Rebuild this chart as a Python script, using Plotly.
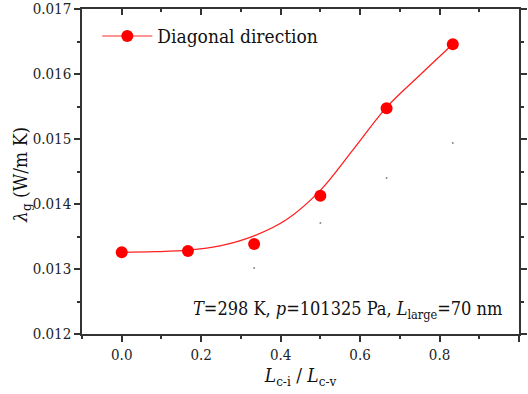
import plotly.graph_objects as go

# Data points (Diagonal direction)
ratio = [0.0, 1/6, 1/3, 0.5, 2/3, 5/6]
lam_g = [0.013257, 0.013277, 0.013385, 0.014128, 0.015472, 0.016457]

# Smooth fitted curve (at evenly spaced x)
curve_x = [0.0, 0.083, 0.167, 0.25, 0.333, 0.417, 0.5, 0.583, 0.667, 0.75, 0.833]
curve_y = [0.013257, 0.013266, 0.01329, 0.01336, 0.01351, 0.01377, 0.01421, 0.01484, 0.01549, 0.01598, 0.016457]

# small gray dots seen under the points
dot_x = [1/3, 0.5, 2/3, 5/6]
dot_y = [0.013015, 0.013708, 0.0144, 0.014938]

FONT = "DejaVu Serif Condensed"
AX = "#333333"

fig = go.Figure()
fig.add_trace(go.Scatter(x=curve_x, y=curve_y, mode="lines", line=dict(color="#ff2020", width=1.3, shape="spline", smoothing=1.0),
                         showlegend=False, hoverinfo="skip"))
fig.add_trace(go.Scatter(x=dot_x, y=dot_y, mode="markers", marker=dict(color="#888888", size=2), showlegend=False))
fig.add_trace(go.Scatter(x=ratio, y=lam_g, mode="markers", showlegend=False,
                         marker=dict(color="#ff0000", size=12)))
# legend entry showing line+marker
fig.add_trace(go.Scatter(x=[None], y=[None], mode="lines+markers", name="Diagonal direction",
                         line=dict(color="#ff7070", width=1.5), marker=dict(color="#ff0000", size=12)))
# invisible trace for mirror axes
fig.add_trace(go.Scatter(x=[None], y=[None], xaxis="x2", yaxis="y2", showlegend=False))

common = dict(showline=True, linecolor=AX, linewidth=1.5, ticks="outside", tickcolor=AX, tickwidth=1.5,
              ticklen=6, showgrid=False, zeroline=False, automargin=False,
              tickfont=dict(family=FONT, size=15, color="#222"))

fig.update_layout(
    width=528, height=394,
    margin=dict(l=82, r=9, t=9, b=60),
    paper_bgcolor="white", plot_bgcolor="white",
    font=dict(family=FONT, color="#111"),
    xaxis=dict(range=[-0.1, 1.0], tickvals=[0.0, 0.2, 0.4, 0.6, 0.8, 1.0],
               ticktext=["0.0", "0.2", "0.4", "0.6", "0.8", "1.0"],
               minor=dict(dtick=0.1, tick0=0, ticks="outside", ticklen=3, tickcolor=AX, tickwidth=1.5),
               title=dict(text="<i>L</i><sub>c-i</sub> / <i>L</i><sub>c-v</sub>", font=dict(family=FONT, size=19), standoff=4),
               **common),
    yaxis=dict(range=[0.012, 0.017], tickvals=[0.012, 0.013, 0.014, 0.015, 0.016, 0.017],
               ticktext=["0.012", "0.013", "0.014", "0.015", "0.016", "0.017"],
               minor=dict(dtick=0.0005, tick0=0.012, ticks="outside", ticklen=3, tickcolor=AX, tickwidth=1.5),
               **common),
    xaxis2=dict(overlaying="x", side="top", range=[-0.1, 1.0], showline=True, linecolor=AX, linewidth=1.5,
                ticks="inside", ticklen=6, tickcolor=AX, tickwidth=1.5, dtick=0.2, tick0=0, showticklabels=False,
                minor=dict(dtick=0.1, tick0=0, ticks="inside", ticklen=3, tickcolor=AX, tickwidth=1.5),
                showgrid=False, zeroline=False, automargin=False),
    yaxis2=dict(overlaying="y", side="right", range=[0.012, 0.017], showline=True, linecolor=AX, linewidth=1.5,
                ticks="outside", ticklen=6, tickcolor=AX, tickwidth=1.5, dtick=0.001, tick0=0.012, showticklabels=False,
                minor=dict(dtick=0.0005, tick0=0.012, ticks="outside", ticklen=3, tickcolor=AX, tickwidth=1.5),
                showgrid=False, zeroline=False, automargin=False),
    legend=dict(x=0.035, y=0.975, xanchor="left", yanchor="top", bgcolor="rgba(0,0,0,0)",
                font=dict(family=FONT, size=19, color="#111"), itemwidth=50),
    annotations=[
        dict(text="<i>T</i>=298 K, <i>p</i>=101325 Pa, <i>L</i><sub>large</sub>=70 nm",
             xref="paper", yref="paper", x=0.965, y=0.075, xanchor="right", yanchor="middle",
             showarrow=False, font=dict(family=FONT, size=18, color="#111")),
        dict(text="<i>λ</i><sub>g</sub> (W/m K)", textangle=-90,
             xref="paper", yref="paper", x=-0.137, y=0.49, xanchor="center", yanchor="middle",
             showarrow=False, font=dict(family=FONT, size=19, color="#111")),
    ],
)

fig.write_html("out.html")
